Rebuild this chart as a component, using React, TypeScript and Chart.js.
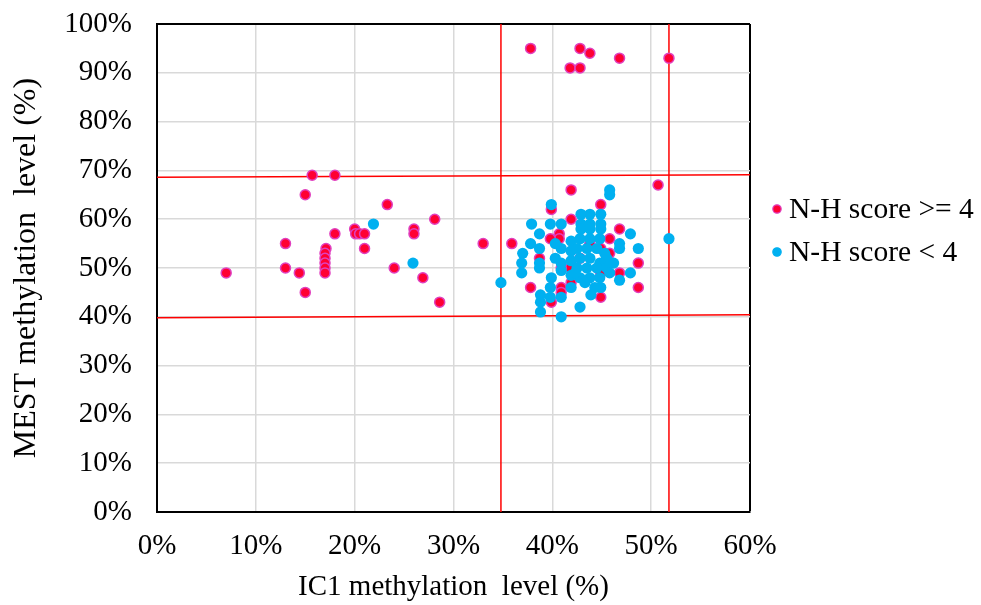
import React, { useEffect, useRef } from "react";
import { Chart, registerables } from "chart.js";

Chart.register(...registerables);

const FONT = "'Liberation Serif', 'Times New Roman', serif";

const xTicks = [0, 10, 20, 30, 40, 50, 60];
const yTicks = [0, 10, 20, 30, 40, 50, 60, 70, 80, 90, 100];

const seriesHighLabel = "N-H score >= 4";
const seriesLowLabel = "N-H score < 4";

// N-H score >= 4 : [IC1 %, MEST %]
const highScorePoints: [number, number][] = [
  [7, 49], [15.7, 69], [18, 69], [15, 65], [13, 55], [13, 50], [14.4, 49], [15, 45],
  [17.1, 54], [17, 53], [17, 52], [17, 51], [17, 50], [17, 49], [18, 57], [20, 58],
  [20.1, 57], [20.5, 57], [21, 57], [21, 54], [23.3, 63], [24, 50], [26, 58], [26, 57],
  [28.1, 60], [26.9, 48], [28.6, 43], [33, 55], [35.9, 55],
  [37.8, 95], [42.8, 95], [43.8, 94], [46.8, 93], [51.8, 93], [41.8, 91], [42.8, 91],
  [50.7, 67],
  [41.9, 66], [44.9, 63], [39.9, 62], [41.9, 60], [46.8, 58], [40.7, 57], [40.7, 56],
  [39.8, 56], [45.8, 56], [44.9, 54], [38.7, 52], [41.8, 50], [46.8, 49], [48.7, 51],
  [48.7, 46], [37.8, 46], [40.9, 46], [40.9, 45], [39.9, 43], [44.9, 44],
  [42.8, 52], [43.8, 55], [44.9, 49], [41.9, 47], [40.9, 50], [45.8, 53],
];

// N-H score < 4 : [IC1 %, MEST %]
const lowScorePoints: [number, number][] = [
  [21.9, 59], [25.9, 51],
  [45.8, 66], [45.8, 65], [39.9, 63], [42.9, 61], [43.8, 61], [44.9, 61], [37.9, 59],
  [39.8, 59], [40.9, 59], [42.9, 59], [43.8, 59], [44.9, 59], [38.7, 57], [42.9, 58],
  [43.8, 58], [44.9, 58], [47.9, 57], [51.8, 56], [37.8, 55], [38.7, 54], [37, 53],
  [36.9, 51], [36.9, 49], [34.8, 47], [38.7, 51], [38.7, 50], [39.9, 48], [40.9, 49.5],
  [40.9, 51], [40.9, 54], [41.9, 55.5], [41.9, 53.5], [41.9, 51.5], [41.9, 48.5],
  [41.9, 46], [46.8, 55], [46.8, 54], [48.7, 54], [47.9, 49], [46.8, 47.5], [39.8, 46],
  [39.8, 44], [38.8, 44.5], [38.8, 43], [38.8, 41], [40.9, 44], [40.9, 40], [42.8, 42],
  [43.9, 44.5], [44.9, 46],
  [42.8, 56], [43.8, 56], [44.8, 56], [42.5, 54], [43.5, 54], [44.5, 54], [45.5, 52],
  [42.8, 52], [43.8, 52], [44.8, 51], [42.5, 50], [43.5, 50], [44.5, 50], [45.5, 50],
  [42.8, 48], [43.8, 48], [44.8, 48], [45.8, 49], [43.3, 47], [44.3, 46], [42.3, 49],
  [46.2, 51], [45.3, 53], [40.3, 52], [40.3, 55],
];

// Threshold (red) lines: [x, y] endpoints
const upperThreshold: [number, number][] = [[0, 68.6], [60, 69.1]];
const lowerThreshold: [number, number][] = [[0, 39.8], [60, 40.4]];
const leftThreshold: [number, number][] = [[34.8, 0], [34.8, 100]];
const rightThreshold: [number, number][] = [[51.8, 0], [51.8, 100]];

const RED_FILL = "#FF0033";
const RED_BORDER = "#E040C0";
const BLUE_FILL = "#00B0F0";
const LINE_RED = "#FF0000";

const toXY = (arr: [number, number][]) => arr.map(([x, y]) => ({ x, y }));

const legendPlugin = {
  id: "customLegend",
  afterDraw(chart: any) {
    const ctx = chart.ctx;
    const items = [
      { label: seriesHighLabel, fill: RED_FILL, border: RED_BORDER, y: 209 },
      { label: seriesLowLabel, fill: BLUE_FILL, border: BLUE_FILL, y: 252 },
    ];
    ctx.save();
    ctx.font = `29.5px ${FONT}`;
    ctx.textBaseline = "middle";
    ctx.textAlign = "left";
    for (const it of items) {
      ctx.beginPath();
      ctx.arc(777, it.y, 4.2, 0, Math.PI * 2);
      ctx.fillStyle = it.fill;
      ctx.fill();
      ctx.lineWidth = 1.2;
      ctx.strokeStyle = it.border;
      ctx.stroke();
      ctx.fillStyle = "#000";
      ctx.fillText(it.label, 789, it.y + 1);
    }
    ctx.restore();
  },
};

export default function App() {
  const ref = useRef<HTMLCanvasElement | null>(null);
  useEffect(() => {
    if (!ref.current) return;
    const lineDs = (data: [number, number][]) => ({
      type: "line" as const,
      data: toXY(data),
      borderColor: LINE_RED,
      borderWidth: 1.5,
      pointRadius: 0,
      showLine: true,
      fill: false,
      order: 3,
    });
    const chart = new Chart(ref.current, {
      type: "scatter",
      data: {
        datasets: [
          {
            label: seriesHighLabel,
            data: toXY(highScorePoints),
            backgroundColor: RED_FILL,
            borderColor: RED_BORDER,
            borderWidth: 1.5,
            pointRadius: 5,
            order: 2,
          },
          {
            label: seriesLowLabel,
            data: toXY(lowScorePoints),
            backgroundColor: BLUE_FILL,
            borderColor: BLUE_FILL,
            borderWidth: 0,
            pointRadius: 5.6,
            order: 1,
          },
          lineDs(upperThreshold) as any,
          lineDs(lowerThreshold) as any,
          lineDs(leftThreshold) as any,
          lineDs(rightThreshold) as any,
        ],
      },
      options: {
        animation: false,
        responsive: false,
        layout: { padding: { top: 24, right: 231, bottom: 0, left: 0 } },
        plugins: {
          legend: { display: false },
          tooltip: { enabled: false },
        },
        scales: {
          x: {
            type: "linear",
            min: 0,
            max: 60,
            afterBuildTicks: (s: any) => {
              s.ticks = xTicks.map((v) => ({ value: v }));
            },
            afterFit: (s: any) => {
              s.height = 93;
              s.paddingLeft = 0;
              s.paddingRight = 0;
            },
            ticks: {
              callback: (v: any) => `${v}%`,
              font: { family: FONT, size: 29 },
              color: "#000",
              padding: 17,
              maxRotation: 0,
            },
            grid: {
              color: (c: any) => (c.tick && c.tick.value === 60 ? "#000" : "#D9D9D9"),
              lineWidth: (c: any) => (c.tick && c.tick.value === 60 ? 2 : 1.5),
              drawTicks: false,
            },
            border: { color: "#000", width: 2 },
            title: {
              display: true,
              text: "IC1 methylation  level (%)",
              font: { family: FONT, size: 29 },
              color: "#000",
              padding: { top: 0, bottom: 0 },
            },
          },
          y: {
            type: "linear",
            min: 0,
            max: 100,
            afterBuildTicks: (s: any) => {
              s.ticks = yTicks.map((v) => ({ value: v }));
            },
            afterFit: (s: any) => {
              s.width = 157;
              s.paddingTop = 0;
              s.paddingBottom = 0;
            },
            ticks: {
              callback: (v: any) => `${v}%`,
              font: { family: FONT, size: 29 },
              color: "#000",
              padding: 25,
            },
            grid: {
              color: (c: any) => (c.tick && c.tick.value === 100 ? "#000" : "#D9D9D9"),
              lineWidth: (c: any) => (c.tick && c.tick.value === 100 ? 2 : 1.5),
              drawTicks: false,
            },
            border: { color: "#000", width: 2 },
            title: {
              display: true,
              text: "MEST methylation  level (%)",
              font: { family: FONT, size: 32 },
              color: "#000",
              padding: { top: 7, bottom: 0 },
            },
          },
        },
      },
      plugins: [legendPlugin],
    });
    return () => chart.destroy();
  }, []);
  return (
    <div style={{ position: "absolute", left: 0, top: 0, width: 981, height: 605, background: "#fff" }}>
      <canvas ref={ref} width={981} height={605} />
    </div>
  );
}
